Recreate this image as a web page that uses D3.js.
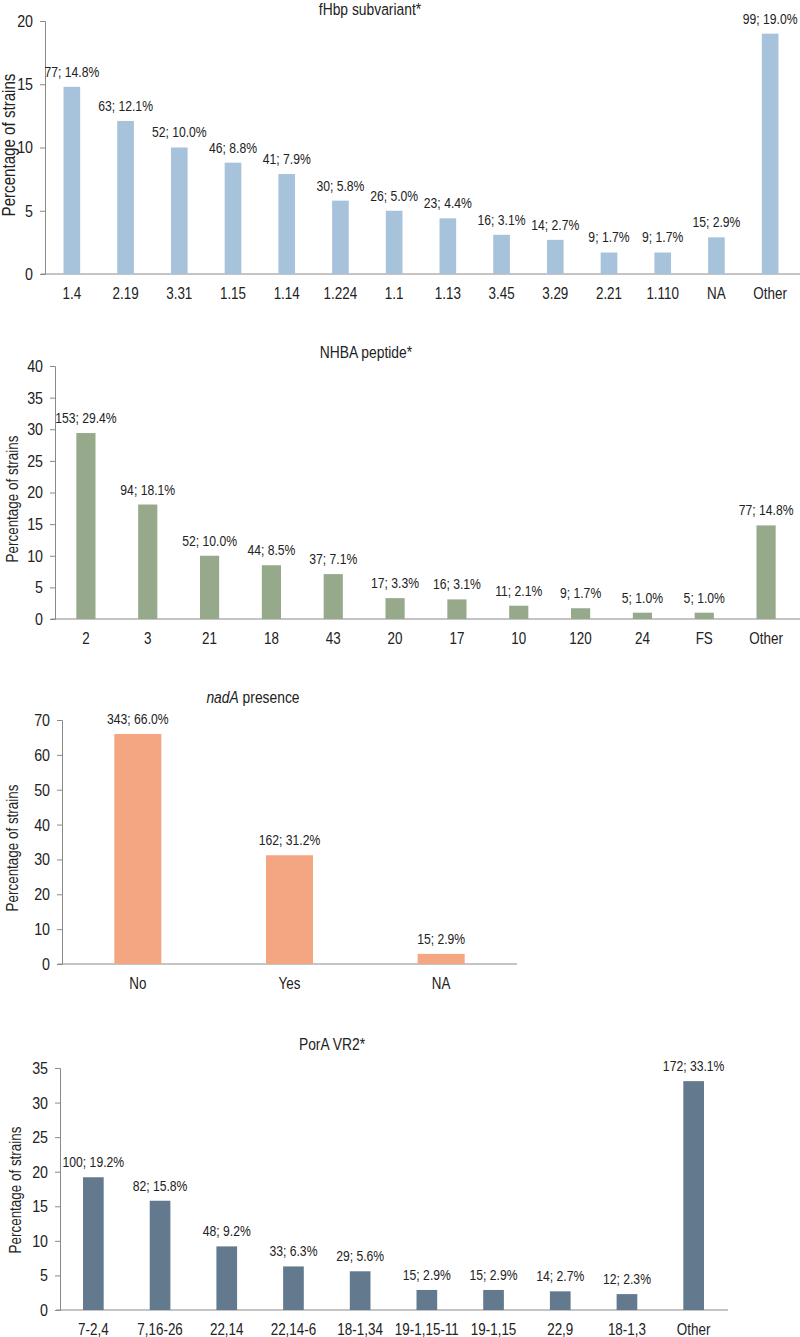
<!DOCTYPE html>
<html><head><meta charset="utf-8">
<script src="https://cdn.jsdelivr.net/npm/d3@7"></script>
<style>
body{margin:0;background:#fff;}
svg text{font-family:"Liberation Sans",Arial,sans-serif;fill:#222;}
</style></head>
<body><svg id="c" width="800" height="1337"></svg>
<script>
// ---- data ----
const fhbpCats = ["1.4","2.19","3.31","1.15","1.14","1.224","1.1","1.13","3.45","3.29","2.21","1.110","NA","Other"];
const fhbpN    = [77,63,52,46,41,30,26,23,16,14,9,9,15,99];
const fhbpPct  = [14.8,12.1,10.0,8.8,7.9,5.8,5.0,4.4,3.1,2.7,1.7,1.7,2.9,19.0];
const fhbpTicks = [0,5,10,15,20];

const nhbaCats = ["2","3","21","18","43","20","17","10","120","24","FS","Other"];
const nhbaN    = [153,94,52,44,37,17,16,11,9,5,5,77];
const nhbaPct  = [29.4,18.1,10.0,8.5,7.1,3.3,3.1,2.1,1.7,1.0,1.0,14.8];
const nhbaTicks = [0,5,10,15,20,25,30,35,40];

const nadaCats = ["No","Yes","NA"];
const nadaN    = [343,162,15];
const nadaPct  = [66.0,31.2,2.9];
const nadaTicks = [0,10,20,30,40,50,60,70];

const poraCats = ["7-2,4","7,16-26","22,14","22,14-6","18-1,34","19-1,15-11","19-1,15","22,9","18-1,3","Other"];
const poraN    = [100,82,48,33,29,15,15,14,12,172];
const poraPct  = [19.2,15.8,9.2,6.3,5.6,2.9,2.9,2.7,2.3,33.1];
const poraTicks = [0,5,10,15,20,25,30,35];

// ---- layout ----
const SX = 0.84; // horizontal condensing to mimic a narrow sans font
const svg = d3.select("#c");
const panels = [
  {cats:fhbpCats,n:fhbpN,pct:fhbpPct,ticks:fhbpTicks,max:20,color:"#a7c3dc",
   x0:45,x1:797,axisEnd:800,y0:274,y1:21,title:"fHbp subvariant*",titleX:370,titleY:15,ylabX:15,ylabY:145,ylabSize:18},
  {cats:nhbaCats,n:nhbaN,pct:nhbaPct,ticks:nhbaTicks,max:40,color:"#96aa8b",
   x0:55,x1:797,axisEnd:800,y0:619,y1:366,title:"NHBA peptide*",titleX:366,titleY:358,ylabX:18,ylabY:499,ylabSize:16},
  {cats:nadaCats,n:nadaN,pct:nadaPct,ticks:nadaTicks,max:70,color:"#f4a682",
   x0:62,x1:517,axisEnd:517,y0:964,y1:720,title:null,titleX:253,titleY:703,ylabX:18,ylabY:848,ylabSize:16},
  {cats:poraCats,n:poraN,pct:poraPct,ticks:poraTicks,max:35,color:"#637a8e",
   x0:60,x1:727,axisEnd:728,y0:1310,y1:1068,title:"PorA VR2*",titleX:332,titleY:1050,ylabX:21,ylabY:1190,ylabSize:16}
];

function condensed(sel, X, Y){
  return sel.attr("x", X/SX).attr("y", Y).attr("transform", `scale(${SX},1)`);
}

panels.forEach((p,pi)=>{
  const g = svg.append("g");
  const x = d3.scaleBand().domain(p.cats).range([p.x0,p.x1]).paddingInner(0).paddingOuter(0);
  const y = d3.scaleLinear().domain([0,p.max]).range([p.y0,p.y1]);
  const bw = x.bandwidth()*0.31;

  // y axis
  const ya = g.append("g").attr("transform",`translate(${p.x0},0)`)
    .call(d3.axisLeft(y).tickValues(p.ticks).tickSize(5).tickPadding(6).tickFormat(d3.format("d")));
  ya.select(".domain").attr("stroke","#8a8a8a");
  ya.selectAll(".tick line").attr("stroke","#8a8a8a");
  ya.selectAll(".tick text").attr("font-size",17).attr("fill","#222")
    .attr("x",-12/SX).attr("transform",`scale(${SX},1)`);

  // x axis baseline
  g.append("line").attr("x1",p.x0-4).attr("x2",p.axisEnd).attr("y1",p.y0).attr("y2",p.y0)
    .attr("stroke","#8a8a8a").attr("stroke-width",1);

  // x labels
  g.selectAll("text.xl").data(p.cats).join("text").attr("class","xl")
    .each(function(d){ condensed(d3.select(this), x(d)+x.bandwidth()/2, p.y0+25); })
    .attr("text-anchor","middle").attr("font-size",16).text(d=>d);

  // bars
  g.selectAll("rect.bar").data(p.cats).join("rect").attr("class","bar")
    .attr("x",d=>x(d)+x.bandwidth()/2-bw/2).attr("width",bw)
    .attr("y",(d,i)=>y(p.pct[i])).attr("height",(d,i)=>p.y0-y(p.pct[i]))
    .attr("fill",p.color);

  // value labels
  g.selectAll("text.vl").data(p.cats).join("text").attr("class","vl")
    .each(function(d,i){ condensed(d3.select(this), x(d)+x.bandwidth()/2, y(p.pct[i])-10); })
    .attr("text-anchor","middle").attr("font-size",14.5)
    .text((d,i)=>`${p.n[i]}; ${p.pct[i].toFixed(1)}%`);

  // title
  const t = g.append("text").attr("text-anchor","middle").attr("font-size",16.5);
  condensed(t, p.titleX, p.titleY);
  if(p.title){ t.text(p.title); }
  else { t.append("tspan").attr("font-style","italic").text("nadA"); t.append("tspan").text(" presence"); }

  // y label
  g.append("text").attr("transform",`translate(${p.ylabX},${p.ylabY}) rotate(-90) scale(${SX},1)`)
    .attr("text-anchor","middle").attr("font-size",p.ylabSize).text("Percentage of strains");
});
</script></body></html>
